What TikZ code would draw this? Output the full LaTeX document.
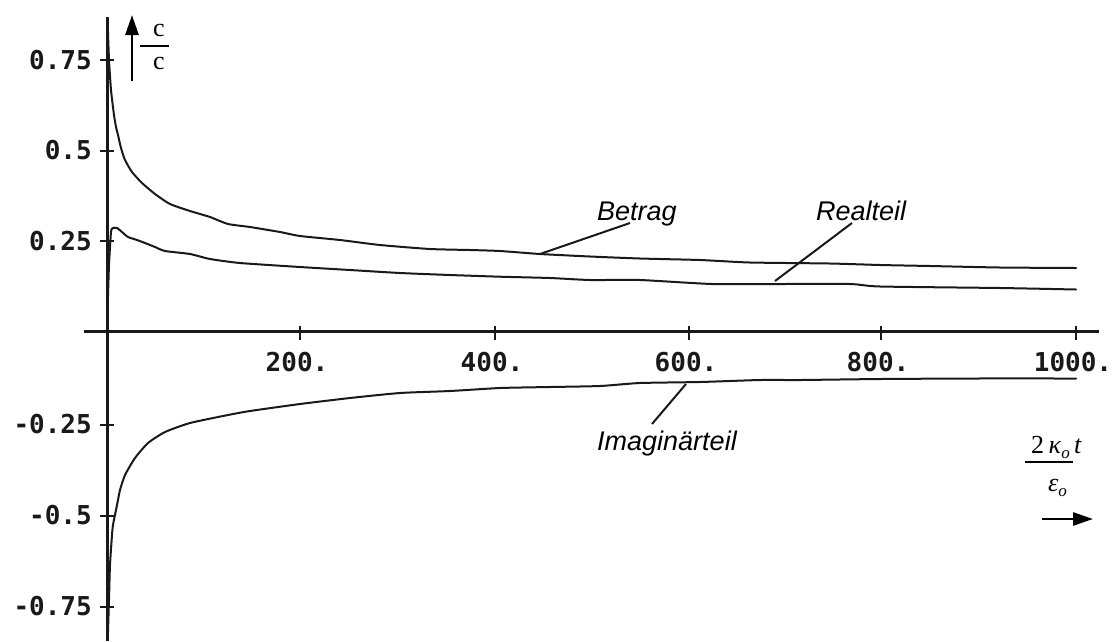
\documentclass[tikz,border=0pt]{standalone}
\usepackage{fontspec}
\usetikzlibrary{arrows.meta}
\newfontfamily\monob{DejaVu Sans Mono}
\newfontfamily\labfont{Liberation Sans}
\newfontfamily\serf{Liberation Serif}
\tikzset{
  axisline/.style={line width=2.4pt, draw=black!90},
  tickline/.style={line width=2pt, draw=black!90},
  curve/.style={line width=2pt, draw=black!90, line join=round, line cap=round},
  leader/.style={line width=2pt, draw=black!90},
  numlab/.style={inner sep=0pt, font=\monob\bfseries\fontsize{26}{28}\selectfont, text=black!90},
  curvelab/.style={inner sep=0pt, font=\labfont\itshape\fontsize{27}{30}\selectfont},
  serlab/.style={inner sep=0pt, font=\serf\fontsize{26}{28}\selectfont},
  bigarrow/.style={line width=2.6pt, -{Triangle[length=20pt,width=13pt]}},
}
\begin{document}
\begin{tikzpicture}[x=1pt,y=-1pt]
\useasboundingbox (0,0) rectangle (1113,641);
% axes
\coordinate (xl) at (84,331.5);
\coordinate (xr) at (1099,331.5);
\coordinate (yt) at (107.5,17);
\coordinate (yb) at (107.5,641);
\draw[axisline] (xl) -- (xr);
\draw[axisline] (yt) -- (yb);
% x ticks and labels
\foreach \px/\lab in {300/200., 495/400., 689/600., 881/800., 1076/1000.}{
  \draw[tickline] (\px,326) -- (\px,340);
  \node[numlab] (xlab\px) at (\px-3,362) {\lab};
}
% y ticks and labels
\foreach \py/\lab/\nm in {60/0.75/a, 150.5/0.5/b, 241/0.25/c, 424.5/-0.25/d, 515.5/-0.5/e, 606.5/-0.75/f}{
  \draw[tickline] (100,\py) -- (114,\py);
  \node[numlab, anchor=east] (ylab\nm) at (92,\py) {\lab};
}
% y axis quantity
\coordinate (yarrowfoot) at (132,81);
\coordinate (yarrowtip) at (132,15);
\draw[bigarrow] (yarrowfoot) -- (yarrowtip);
\node[serlab] (cnum) at (159,30) {c};
\node[serlab] (cden) at (159,63) {c};
\coordinate (cbarl) at (140,46);
\coordinate (cbarr) at (169,46);
\draw[line width=2pt] (cbarl) -- (cbarr);
% x axis quantity
\node[serlab, anchor=base west] (tnum) at (1031,453) {2\,\textit{κ}\raisebox{-5pt}{\fontsize{17}{18}\selectfont\textit{o}}\,\textit{t}};
\coordinate (tbarl) at (1025,462);
\coordinate (tbarr) at (1073,462);
\draw[line width=2pt] (tbarl) -- (tbarr);
\node[serlab, anchor=base west] (tden) at (1048,491) {\textit{ε}\raisebox{-5pt}{\fontsize{17}{18}\selectfont\textit{o}}};
\coordinate (xarrowfoot) at (1042,519);
\coordinate (xarrowtip) at (1093,519);
\draw[bigarrow] (xarrowfoot) -- (xarrowtip);
% curves
\draw[curve] plot[smooth, tension=0.35] coordinates {
 (108,32) (109,60) (111,90) (114,115) (116,127) (118,135) (121,148) (125,160)
 (132,172) (142,183) (155,194) (170,204) (190,211) (210,217) (228,224) (250,227)
 (280,232) (300,236) (340,240) (380,245) (430,249) (470,250) (500,251) (540,254)
 (590,256.5) (640,258.5) (700,260) (750,262.5) (830,263.5) (880,265) (930,266)
 (1000,267.5) (1076,268)};
\draw[curve] plot[smooth, tension=0.35] coordinates {
 (108,297) (109,265) (111,232) (113,228) (117,228) (122,232) (128,237) (137,240)
 (145,243) (155,247) (165,251) (190,254) (210,259) (240,263) (300,267) (350,270)
 (400,273) (450,275) (500,276.7) (550,278) (590,280) (640,280) (712,284) (780,284)
 (850,284) (880,286.5) (1000,288) (1076,289.5)};
\draw[curve] plot[smooth, tension=0.35] coordinates {
 (108,632) (109,600) (110,565) (112,535) (113,525) (116,510) (118,500) (120,490)
 (125,475) (135,458) (148,443) (165,432) (190,423) (228,415) (250,411) (300,404)
 (350,398) (400,393) (450,391) (500,388) (550,387) (600,386) (640,383) (700,382)
 (760,380) (800,380) (880,379) (973,378.5) (1076,378.5)};
% curve labels with leaders
\node[curvelab, anchor=base west] (betrag) at (597,220) {Betrag};
\node[curvelab, anchor=base west] (realteil) at (816,220) {Realteil};
\node[curvelab, anchor=base west] (imag) at (597,450) {Imaginärteil};
\coordinate (betragtop) at (630,223);
\coordinate (betragpt) at (540,254);
\coordinate (realtop) at (852,223);
\coordinate (realpt) at (775,281);
\coordinate (imagtop) at (686,384);
\coordinate (imagpt) at (652,424);
\draw[leader] (betragtop) -- (betragpt);
\draw[leader] (realtop) -- (realpt);
\draw[leader] (imagtop) -- (imagpt);
\end{tikzpicture}
\end{document}
